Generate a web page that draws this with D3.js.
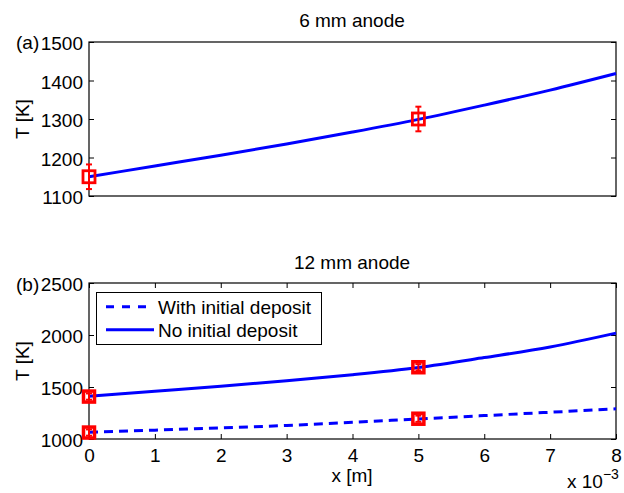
<!DOCTYPE html>
<html lang="en">
<head>
<meta charset="UTF-8">
<title>Anode temperature</title>
<script src="https://d3js.org/d3.v7.min.js"></script>
<style>
  body { margin: 0; background: #fff; }
  text { font-family: "Liberation Sans", Arial, sans-serif; fill: #000; font-size: 19px; }
  .axis text { font-size: 19px; }
  .axis path { display: none; }
  .axis line { stroke: #000; }
</style>
</head>
<body>
<svg id="chart" width="624" height="493"></svg>
<script>
// positions along the anode [m]
const xs = [0, 0.001, 0.002, 0.003, 0.004, 0.005, 0.006, 0.007, 0.008];

// (a) 6 mm anode, model curve
const t6 = [1150, 1178, 1206, 1235, 1266, 1299, 1336, 1375, 1418];
// measured points with error
const meas6X = [0, 0.005];
const meas6T = [1150, 1300];
const meas6Err = [32, 32];

// (b) 12 mm anode
const tWithDeposit = [1065, 1085, 1107, 1130, 1160, 1193, 1225, 1257, 1290];
const tNoDeposit = [1412, 1460, 1508, 1560, 1618, 1688, 1783, 1885, 2018];
const meas12X = [0, 0, 0.005, 0.005];
const meas12T = [1062, 1408, 1195, 1690];
const meas12Err = [30, 30, 30, 30];

const xTicks = [0, 1, 2, 3, 4, 5, 6, 7, 8];
const yTicksA = [1100, 1200, 1300, 1400, 1500];
const yTicksB = [1000, 1500, 2000, 2500];

const svg = d3.select("#chart");
const left = 89, right = 616;

const x = d3.scaleLinear().domain([0, 0.008]).range([left, right]);

function panel(top, bottom, yDomain, yTicks, showX) {
  const y = d3.scaleLinear().domain(yDomain).range([bottom, top]);
  const g = svg.append("g");

  g.append("g").attr("class", "axis")
    .attr("transform", "translate(" + left + ",0)")
    .call(d3.axisLeft(y).tickValues(yTicks).tickSizeInner(-5).tickSizeOuter(0).tickPadding(6).tickFormat(d3.format("d")))
    .selectAll("text").attr("dy", "0.42em");
  g.append("g").attr("class", "axis")
    .attr("transform", "translate(" + right + ",0)")
    .call(d3.axisRight(y).tickValues(yTicks).tickSizeInner(-5).tickSizeOuter(0).tickFormat(""));

  if (showX) {
    g.append("g").attr("class", "axis")
      .attr("transform", "translate(0," + bottom + ")")
      .call(d3.axisBottom(x).tickValues(xTicks.map(d => d / 1000)).tickSizeInner(-5).tickSizeOuter(0).tickPadding(10).tickFormat(d => Math.round(d * 1000)));
    g.append("g").attr("class", "axis")
      .attr("transform", "translate(0," + top + ")")
      .call(d3.axisTop(x).tickValues(xTicks.map(d => d / 1000)).tickSizeInner(-5).tickSizeOuter(0).tickFormat(""));
  }

  g.append("rect")
    .attr("x", left).attr("y", top)
    .attr("width", right - left).attr("height", bottom - top)
    .attr("fill", "none").attr("stroke", "#000").attr("stroke-width", 1.2);
  return y;
}

function curve(y, values, dashed) {
  const line = d3.line()
    .x((d, i) => x(xs[i]))
    .y(d => y(d))
    .curve(d3.curveMonotoneX);
  svg.append("path")
    .datum(values)
    .attr("d", line)
    .attr("fill", "none")
    .attr("stroke", "#0000ff")
    .attr("stroke-width", 3)
    .attr("stroke-dasharray", dashed ? "9,6" : null);
}

function markers(y, mx, mt, me, size, sw) {
  const g = svg.append("g").attr("stroke", "#ff0000").attr("fill", "none");
  mx.forEach((v, i) => {
    const cx = x(v), cy = y(mt[i]);
    g.append("line").attr("x1", cx).attr("x2", cx)
      .attr("y1", y(mt[i] - me[i])).attr("y2", y(mt[i] + me[i]))
      .attr("stroke-width", 2);
    [mt[i] - me[i], mt[i] + me[i]].forEach(e => {
      g.append("line").attr("x1", cx - 3).attr("x2", cx + 3)
        .attr("y1", y(e)).attr("y2", y(e)).attr("stroke-width", 2);
    });
    g.append("rect")
      .attr("x", cx - size / 2).attr("y", cy - size / 2)
      .attr("width", size).attr("height", size)
      .attr("stroke-width", sw);
  });
}

// panel (a)
const yA = panel(42, 196, [1100, 1500], yTicksA, false);
curve(yA, t6, false);
markers(yA, meas6X, meas6T, meas6Err, 12, 2.8);

svg.append("text").attr("x", 352).attr("y", 27).attr("text-anchor", "middle").text("6 mm anode");
svg.append("text").attr("x", 16).attr("y", 49).text("(a)");
svg.append("text").attr("transform", "translate(29,119) rotate(-90)")
  .attr("text-anchor", "middle").text("T [K]");

// panel (b)
const yB = panel(283, 439, [1000, 2500], yTicksB, true);
curve(yB, tWithDeposit, true);
curve(yB, tNoDeposit, false);
markers(yB, meas12X, meas12T, meas12Err, 11, 3.5);

svg.append("text").attr("x", 352).attr("y", 482).attr("text-anchor", "middle").text("x [m]");
svg.append("text").attr("x", 352).attr("y", 269).attr("text-anchor", "middle").text("12 mm anode");
svg.append("text").attr("x", 16).attr("y", 291).text("(b)");
svg.append("text").attr("transform", "translate(29,361) rotate(-90)")
  .attr("text-anchor", "middle").text("T [K]");
const exp = svg.append("text").attr("x", 567).attr("y", 488);
exp.append("tspan").text("x 10");
exp.append("tspan").attr("dy", -9).style("font-size", "14px").text("\u22123");

// legend
const legendItems = ["With initial deposit", "No initial deposit"];
const legendDash = [true, false];
const lg = svg.append("g");
lg.append("rect").attr("x", 96.5).attr("y", 292.5).attr("width", 225).attr("height", 52)
  .attr("fill", "#fff").attr("stroke", "#000").attr("stroke-width", 1);
legendItems.forEach((name, i) => {
  const ly = 306.7 + i * 23;
  lg.append("line").attr("x1", 106).attr("x2", 154).attr("y1", ly).attr("y2", ly)
    .attr("stroke", "#0000ff").attr("stroke-width", 3)
    .attr("stroke-dasharray", legendDash[i] ? "8,8" : null);
  lg.append("text").attr("x", 158).attr("y", ly + 7).text(name);
});
</script>
</body>
</html>
